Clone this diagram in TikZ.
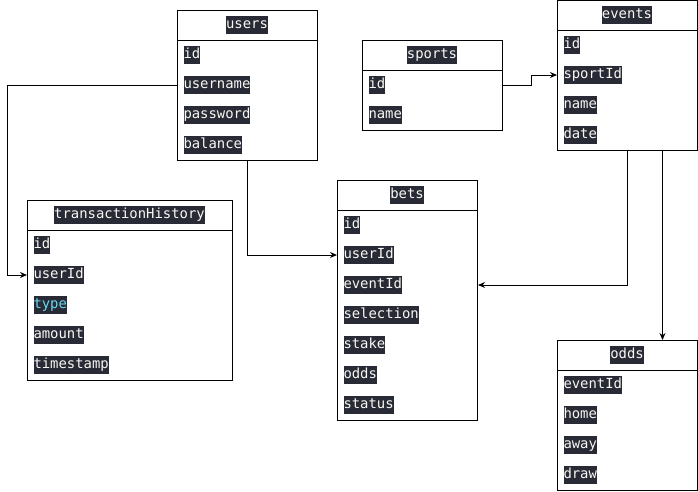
\documentclass[tikz,border=0pt]{standalone}
\usepackage{fontspec}
\setmonofont{DejaVu Sans Mono}
\usetikzlibrary{arrows.meta}
\definecolor{fieldbg}{RGB}{40,42,54}
\definecolor{fieldfg}{RGB}{248,248,242}
\definecolor{typecyan}{RGB}{102,217,239}

\begin{document}
\begin{tikzpicture}[x=1pt,y=-1pt,line width=1pt,
    >={Stealth[length=7pt,width=6pt]},
    table/.style={draw,anchor=north west,minimum width=140pt,inner sep=0pt},
    field/.style={fill=fieldbg,text=fieldfg,font=\fontsize{13.9}{16}\selectfont\ttfamily,
      inner xsep=0pt,inner ysep=2pt,text height=10.5pt,text depth=3.4pt},
    row/.style={field,anchor=west}]
          \useasboundingbox[fill=white] (0,0) rectangle (698,491);

          % tables
          \node[table,minimum height=150pt] (users) at (177,10) {};
          \node[table,minimum height=90pt] (sports) at (362,40) {};
          \node[table,minimum height=150pt] (events) at (557,0) {};
          \node[table,minimum width=205pt,minimum height=180pt] (th) at (27,200) {};
          \node[table,minimum height=240pt] (bets) at (337,180) {};
          \node[table,minimum height=150pt] (odds) at (557,340) {};

          \foreach \t in {users,sports,events,th,bets,odds}
            \draw ([yshift=-30pt]\t.north west) -- ([yshift=-30pt]\t.north east);

          % users
          \node[field] (users-title) at (247,25) {users};
          \node[row] (users-id) at (183,55) {id};
          \node[row] (users-username) at (183,85) {username};
          \node[row] (users-password) at (183,115) {password};
          \node[row] (users-balance) at (183,145) {balance};

          % sports
          \node[field] (sports-title) at (432,55) {sports};
          \node[row] (sports-id) at (368,85) {id};
          \node[row] (sports-name) at (368,115) {name};

          % events
          \node[field] (events-title) at (627,15) {events};
          \node[row] (events-id) at (563,45) {id};
          \node[row] (events-sportId) at (563,75) {sportId};
          \node[row] (events-name) at (563,105) {name};
          \node[row] (events-date) at (563,135) {date};

          % transactionHistory
          \node[field] (th-title) at (129.5,215) {transactionHistory};
          \node[row] (th-id) at (33,245) {id};
          \node[row] (th-userId) at (33,275) {userId};
          \node[row,text=typecyan] (th-type) at (33,305) {type};
          \node[row] (th-amount) at (33,335) {amount};
          \node[row] (th-timestamp) at (33,365) {timestamp};

          % bets
          \node[field] (bets-title) at (407,195) {bets};
          \node[row] (bets-id) at (343,225) {id};
          \node[row] (bets-userId) at (343,255) {userId};
          \node[row] (bets-eventId) at (343,285) {eventId};
          \node[row] (bets-selection) at (343,315) {selection};
          \node[row] (bets-stake) at (343,345) {stake};
          \node[row] (bets-odds) at (343,375) {odds};
          \node[row] (bets-status) at (343,405) {status};

          % odds
          \node[field] (odds-title) at (627,355) {odds};
          \node[row] (odds-eventId) at (563,385) {eventId};
          \node[row] (odds-home) at (563,415) {home};
          \node[row] (odds-away) at (563,445) {away};
          \node[row] (odds-draw) at (563,475) {draw};

          % relations
          \draw[->] (users.west |- users-username) -- ++(-170,0) |- (th.west |- th-userId);
          \draw[->] (users.south) |- (bets.west |- bets-userId);
          \draw[->] (sports.east |- sports-id) -- ++(28,0) |- (events.west |- events-sportId);
          \draw[->] (events.south) |- (bets.east |- bets-eventId);
          \draw[->] ([xshift=35pt]events.south) -- ([xshift=35pt]odds.north);
        \end{tikzpicture}
\end{document}
